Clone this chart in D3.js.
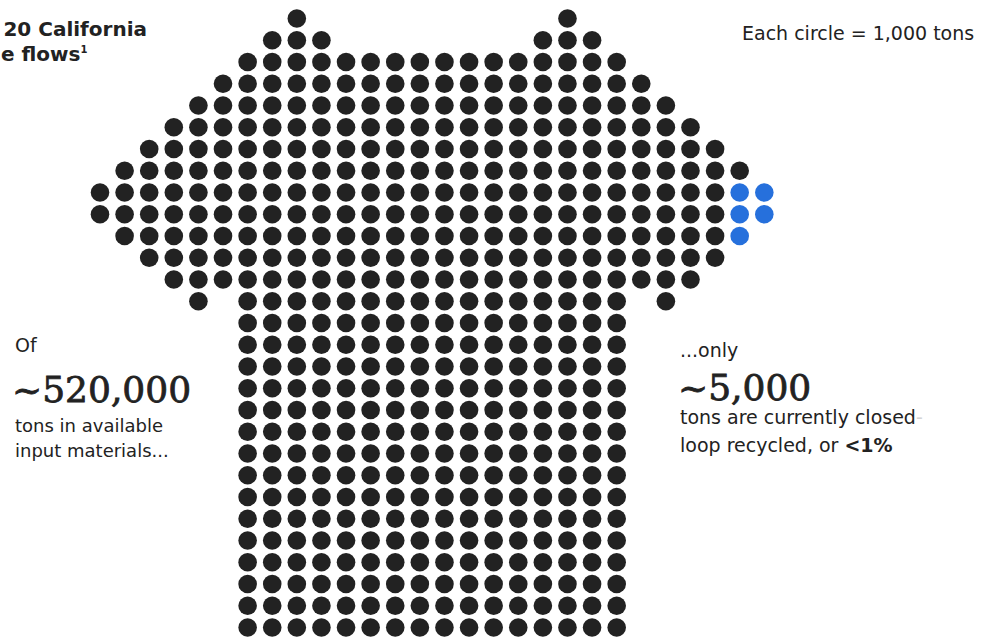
<!DOCTYPE html>
<html>
<head>
<meta charset="utf-8">
<script src="https://cdn.jsdelivr.net/npm/d3@7"></script>
<style>
  html, body { margin: 0; padding: 0; background: #fff; }
  svg { display: block; }
  .sans { font-family: "DejaVu Sans", "Noto Sans", sans-serif; fill: #222; }
  .serif { font-family: "DejaVu Serif", "Liberation Serif", serif; fill: #222; stroke: #222; stroke-width: 0.8px; }
</style>
</head>
<body>
<svg id="chart" width="982" height="639"></svg>
<script>
// Tonnage behind the chart
const tonsPerCircle = 1000;
const totalTons = 520000;
const recycledTons = 5000;

// T-shirt silhouette: the column spans [from, to] filled on each grid row, top to bottom
const shirtRows = [
  [[8, 8], [19, 19]],
  [[7, 9], [18, 20]],
  [[6, 21]],
  [[5, 22]],
  [[4, 23]],
  [[3, 24]],
  [[2, 25]],
  [[1, 26]],
  [[0, 27]],
  [[0, 27]],
  [[1, 26]],
  [[2, 25]],
  [[3, 24]],
  [[4, 4], [6, 21], [23, 23]],
  [[6, 21]], [[6, 21]], [[6, 21]], [[6, 21]], [[6, 21]],
  [[6, 21]], [[6, 21]], [[6, 21]], [[6, 21]], [[6, 21]],
  [[6, 21]], [[6, 21]], [[6, 21]], [[6, 21]], [[6, 21]]
];

// Text
const titleLines = ["20 California", "e flows"];
const titleNote = "1";
const legendLabel = "Each circle = 1,000 tons";
const leftLines = { lead: "Of", figure: "~520,000", body: ["tons in available", "input materials..."] };
const rightLines = { lead: "...only", figure: "~5,000", body: ["tons are currently closed", "loop recycled, or "], emphasis: "<1%" };

const colors = { ink: "#222222", recycled: "#2670dc", faint: "#d4d4d4" };

// Expand the silhouette into one cell per circle
const cells = [];
shirtRows.forEach((spans, row) => {
  spans.forEach(([a, b]) => {
    d3.range(a, b + 1).forEach(col => cells.push({ row, col }));
  });
});

const nCircles = totalTons / tonsPerCircle;      // 520
const nRecycled = recycledTons / tonsPerCircle;  // 5

// Recycled circles sit at the tip of the right sleeve
const maxCol = d3.max(cells, d => d.col);
const tipRows = cells.filter(d => d.col === maxCol).map(d => d.row);
const tipCenter = d3.mean(tipRows);
const order = cells.slice().sort((p, q) =>
  d3.descending(p.col, q.col) ||
  d3.ascending(Math.abs(p.row - tipCenter), Math.abs(q.row - tipCenter)) ||
  d3.descending(p.row, q.row));
order.slice(0, nRecycled).forEach(d => { d.recycled = true; });

const svg = d3.select("#chart");

const x = d3.scaleLinear().domain([0, maxCol]).range([100, 764.3]);
const y = d3.scaleLinear().domain([0, shirtRows.length - 1]).range([18.5, 627.5]);
const r = 9.3;

svg.append("g")
  .selectAll("circle")
  .data(cells.slice(0, nCircles))
  .join("circle")
  .attr("cx", d => x(d.col))
  .attr("cy", d => y(d.row))
  .attr("r", r)
  .attr("fill", d => d.recycled ? colors.recycled : colors.ink);

// Title
const title = svg.append("g").attr("class", "sans").style("font-weight", 700).style("font-size", "20px");
title.append("text").attr("x", 147).attr("y", 36).attr("text-anchor", "end").text(titleLines[0]);
const t2 = title.append("text").attr("x", 1).attr("y", 60.5);
t2.append("tspan").text(titleLines[1]);
t2.append("tspan").attr("dy", -8).style("font-size", "10px").text(titleNote);

// Legend
svg.append("text").attr("class", "sans")
  .attr("x", 742).attr("y", 40)
  .style("font-size", "19px")
  .text(legendLabel);

// Left annotation
const left = svg.append("g");
left.append("text").attr("class", "sans").attr("x", 15).attr("y", 351.5).style("font-size", "19px").text(leftLines.lead);
left.append("text").attr("class", "serif").attr("x", 12).attr("y", 401.5).style("font-size", "36px").text(leftLines.figure);
left.append("text").attr("class", "sans").attr("x", 15).attr("y", 431.5).style("font-size", "18px").text(leftLines.body[0]);
left.append("text").attr("class", "sans").attr("x", 15).attr("y", 456.5).style("font-size", "18px").text(leftLines.body[1]);

// Right annotation
const right = svg.append("g");
right.append("text").attr("class", "sans").attr("x", 680).attr("y", 356.5).style("font-size", "19px").text(rightLines.lead);
right.append("text").attr("class", "serif").attr("x", 678).attr("y", 400).style("font-size", "36px").text(rightLines.figure);
const rb1 = right.append("text").attr("class", "sans").attr("x", 680).attr("y", 423.5).style("font-size", "19px");
rb1.append("tspan").text(rightLines.body[0]);
rb1.append("tspan").style("fill", colors.faint).text("-");
const rb2 = right.append("text").attr("class", "sans").attr("x", 680).attr("y", 451.5).style("font-size", "19px");
rb2.append("tspan").text(rightLines.body[1]);
rb2.append("tspan").style("font-weight", 700).text(rightLines.emphasis);
</script>
</body>
</html>
